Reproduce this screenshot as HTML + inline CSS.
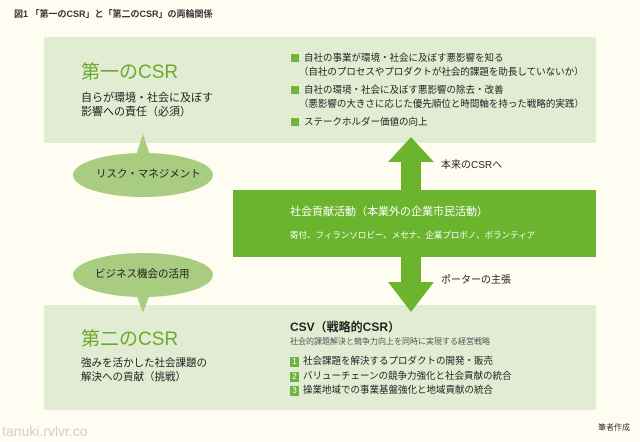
<!DOCTYPE html>
<html><head><meta charset="utf-8"><style>
*{margin:0;padding:0;box-sizing:border-box}
body{width:640px;height:442px;background:#fffdf2;position:relative;overflow:hidden;font-family:"Liberation Sans","Noto Sans CJK JP",sans-serif;color:#222}
.a{position:absolute;white-space:nowrap;line-height:1}
.box{position:absolute;background:#e2ecd3}
.sq{display:inline-block;width:8px;height:8px;background:#6db33f;margin-right:5px;vertical-align:-1px}
.num{display:inline-block;width:9px;height:10px;background:#6db33f;color:#fff;font-size:8px;text-align:center;line-height:10px;margin-right:4px;vertical-align:0}
</style></head><body>
<div class="a" style="left:14px;top:10px;font-size:9px;font-weight:bold;color:#333">図1 「第一のCSR」と「第二のCSR」の両輪関係</div>
<div class="box" style="left:44px;top:37px;width:552px;height:106px"></div>
<div class="box" style="left:44px;top:305px;width:552px;height:105px"></div>
<svg class="a" style="left:0;top:0" width="640" height="442">
<ellipse cx="143" cy="175" rx="70" ry="22" fill="#a8cc80"/>
<polygon points="136,155 150,155 143,134" fill="#a8cc80"/>
<ellipse cx="143" cy="275" rx="70" ry="22" fill="#a8cc80"/>
<polygon points="136,294 150,294 143,313" fill="#a8cc80"/>
<rect x="233" y="190" width="363" height="67" fill="#6ab42e"/>
<polygon points="411,137 434,162 421,162 421,190 401,190 401,162 388,162" fill="#6ab42e"/>
<polygon points="411,312 434,282 421,282 421,257 401,257 401,282 388,282" fill="#6ab42e"/>
</svg>
<div class="a" style="left:81px;top:63px;font-size:19px;color:#6aaa2e">第一のCSR</div>
<div class="a" style="left:81px;top:91px;font-size:11px;line-height:14px">自らが環境・社会に及ぼす<br>影響への責任（必須）</div>
<div class="a" style="left:291px;top:52px;font-size:9.5px;line-height:14px"><span class="sq"></span>自社の事業が環境・社会に及ぼす悪影響を知る<br>&nbsp;&nbsp;&nbsp;（自社のプロセスやプロダクトが社会的課題を助長していないか）</div>
<div class="a" style="left:291px;top:84px;font-size:9.5px;line-height:14px"><span class="sq"></span>自社の環境・社会に及ぼす悪影響の除去・改善<br>&nbsp;&nbsp;&nbsp;（悪影響の大きさに応じた優先順位と時間軸を持った戦略的実践）</div>
<div class="a" style="left:291px;top:118px;font-size:9.5px"><span class="sq"></span>ステークホルダー価値の向上</div>
<div class="a" style="left:96px;top:169px;font-size:10.5px">リスク・マネジメント</div>
<div class="a" style="left:95px;top:269px;font-size:10.5px">ビジネス機会の活用</div>
<div class="a" style="left:441px;top:161px;font-size:10px">本来のCSRへ</div>
<div class="a" style="left:441px;top:276px;font-size:10px">ポーターの主張</div>
<div class="a" style="left:290px;top:207px;font-size:11px;color:#fff">社会貢献活動（本業外の企業市民活動）</div>
<div class="a" style="left:290px;top:231px;font-size:8.5px;color:#fff">寄付、フィランソロピー、メセナ、企業プロボノ、ボランティア</div>
<div class="a" style="left:81px;top:330px;font-size:19px;color:#6aaa2e">第二のCSR</div>
<div class="a" style="left:81px;top:356px;font-size:10.5px;line-height:14px">強みを活かした社会課題の<br>解決への貢献（挑戦）</div>
<div class="a" style="left:290px;top:321px;font-size:12px;font-weight:bold">CSV（戦略的CSR）</div>
<div class="a" style="left:290px;top:338px;font-size:8px;color:#555">社会的課題解決と競争力向上を同時に実現する経営戦略</div>
<div class="a" style="left:290px;top:355px;font-size:9.5px;line-height:14.5px"><span class="num">1</span>社会課題を解決するプロダクトの開発・販売<br><span class="num">2</span>バリューチェーンの競争力強化と社会貢献の統合<br><span class="num">3</span>操業地域での事業基盤強化と地域貢献の統合</div>
<div class="a" style="left:598px;top:424px;font-size:8px;color:#333">筆者作成</div>
<div class="a" style="left:2px;top:424px;font-size:14px;color:#d0d0c8">tanuki.rvlvr.co</div>
</body></html>
